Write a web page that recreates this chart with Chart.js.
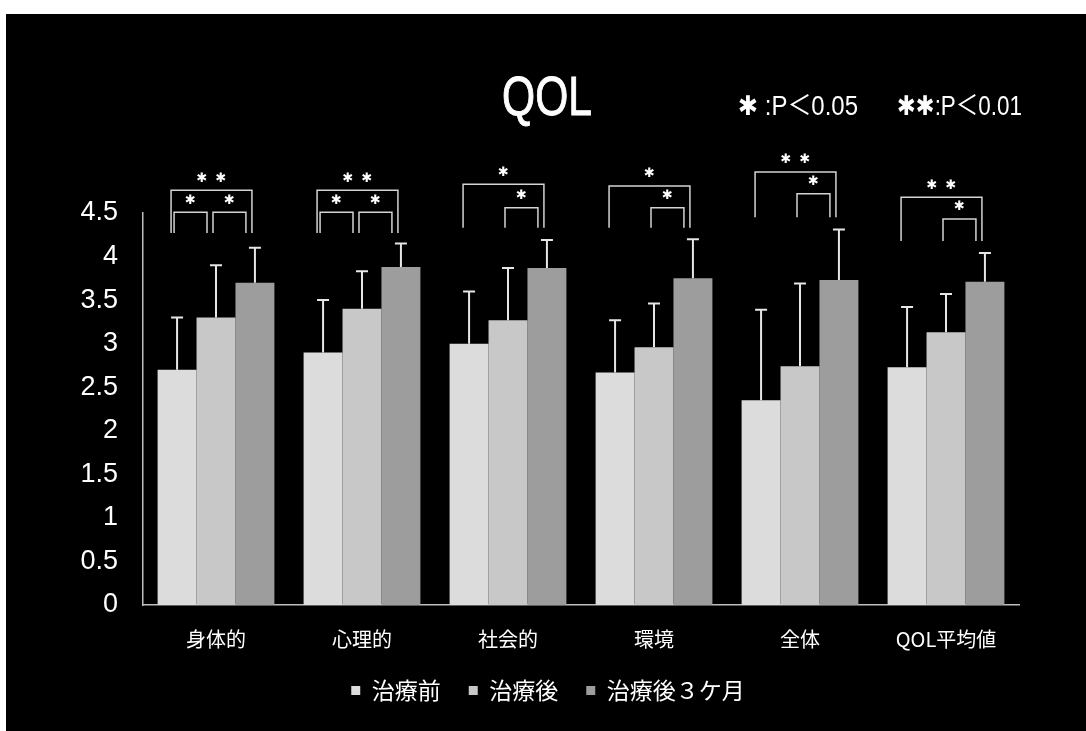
<!DOCTYPE html>
<html lang="ja">
<head>
<meta charset="utf-8">
<title>QOL</title>
<script src="https://cdn.jsdelivr.net/npm/chart.js@4.4.1/dist/chart.umd.min.js"></script>
<style>
  html, body { margin: 0; padding: 0; background: #ffffff; }
  #wrap { position: relative; width: 1086px; height: 731px; }
</style>
</head>
<body>
<div id="wrap"><canvas id="qol" width="1086" height="731"></canvas></div>
<script>
// Domains of the QOL questionnaire
const categories = ['身体的', '心理的', '社会的', '環境', '全体', 'QOL平均値'];
const seriesNames = ['治療前', '治療後', '治療後３ケ月'];

// Mean scores per domain
const beforeTreatment = [2.70, 2.90, 3.00, 2.67, 2.35, 2.73];
const afterTreatment  = [3.30, 3.40, 3.27, 2.96, 2.74, 3.13];
const after3Months    = [3.70, 3.88, 3.87, 3.75, 3.73, 3.71];

// Standard deviations (upper error bars)
const beforeSD  = [0.60, 0.60, 0.60, 0.60, 1.04, 0.69];
const afterSD   = [0.60, 0.43, 0.60, 0.50, 0.95, 0.44];
const after3SD  = [0.40, 0.27, 0.32, 0.45, 0.58, 0.33];

const yTickLabels = ['0', '0.5', '1', '1.5', '2', '2.5', '3', '3.5', '4', '4.5'];

// Significance brackets: domain, compared series, mark, bracket height and foot height (score units)
const bracketGroup = [0, 0, 0, 1, 1, 1, 2, 2, 3, 3, 4, 4, 5, 5];
const bracketFrom  = [0, 0, 1, 0, 0, 1, 0, 1, 0, 1, 0, 1, 0, 1];
const bracketTo    = [2, 1, 2, 2, 1, 2, 2, 2, 2, 2, 2, 2, 2, 2];
const bracketMark  = ['**', '*', '*', '**', '*', '*', '*', '*', '*', '*', '**', '*', '**', '*'];
const bracketTop   = [4.76, 4.51, 4.51, 4.76, 4.51, 4.51, 4.83, 4.56, 4.81, 4.56, 4.97, 4.72, 4.68, 4.43];
const bracketFoot  = [4.27, 4.27, 4.27, 4.27, 4.27, 4.27, 4.33, 4.33, 4.33, 4.33, 4.45, 4.45, 4.18, 4.18];

const titleText = 'QOL';
const noteTexts = ['✱ :P＜0.05', '✱✱:P＜0.01'];

const barColors = ['#dcdcdc', '#c8c8c8', '#9d9d9d'];
const sdSets = [beforeSD, afterSD, after3SD];

const cjk = '"Noto Sans CJK JP", "Noto Sans", sans-serif';
const latin = '"Liberation Sans", Arial, "DejaVu Sans", ' + cjk;

// White page margin with the black slide behind the chart
const backdrop = {
  id: 'backdrop',
  beforeDraw(chart) {
    const ctx = chart.ctx;
    ctx.save();
    ctx.fillStyle = '#ffffff';
    ctx.fillRect(0, 0, chart.width, chart.height);
    ctx.fillStyle = '#000000';
    ctx.fillRect(6, 14, chart.width - 6, chart.height - 14);
    ctx.restore();
  }
};

// Upper standard-deviation whiskers
const errorBars = {
  id: 'errorBars',
  afterDatasetsDraw(chart) {
    const ctx = chart.ctx, y = chart.scales.y;
    ctx.save();
    ctx.strokeStyle = '#e6e6e6';
    ctx.lineWidth = 2;
    chart.data.datasets.forEach((ds, i) => {
      const meta = chart.getDatasetMeta(i);
      meta.data.forEach((bar, j) => {
        const top = y.getPixelForValue(ds.data[j] + sdSets[i][j]);
        ctx.beginPath();
        ctx.moveTo(bar.x, bar.y);
        ctx.lineTo(bar.x, top);
        ctx.moveTo(bar.x - 6, top);
        ctx.lineTo(bar.x + 6, top);
        ctx.stroke();
      });
    });
    ctx.restore();
  }
};

// Significance brackets with asterisks
const significance = {
  id: 'significance',
  afterDatasetsDraw(chart) {
    const ctx = chart.ctx, y = chart.scales.y;
    ctx.save();
    bracketGroup.forEach((g, k) => {
      const a = chart.getDatasetMeta(bracketFrom[k]).data[g].x;
      const b = chart.getDatasetMeta(bracketTo[k]).data[g].x;
      const wide = bracketTo[k] - bracketFrom[k] > 1;
      const x1 = a + (wide ? -6 : -3);
      const x2 = b + (wide ? -3 : -9);
      const yt = y.getPixelForValue(bracketTop[k]);
      const yf = y.getPixelForValue(bracketFoot[k]);
      ctx.strokeStyle = '#d4d4d4';
      ctx.lineWidth = 1.5;
      ctx.beginPath();
      ctx.moveTo(x1, yf);
      ctx.lineTo(x1, yt);
      ctx.lineTo(x2, yt);
      ctx.lineTo(x2, yf);
      ctx.stroke();
      const n = bracketMark[k].length;
      const mid = (x1 + x2) / 2;
      ctx.fillStyle = '#ffffff';
      ctx.font = '13px "DejaVu Sans", ' + cjk;
      ctx.textAlign = 'center';
      ctx.textBaseline = 'middle';
      for (let s = 0; s < n; s++) {
        ctx.fillText('✱', mid + (s - (n - 1) / 2) * 19, yt - 12);
      }
    });
    ctx.restore();
  }
};

// Title and significance key
const headings = {
  id: 'headings',
  afterDraw(chart) {
    const ctx = chart.ctx;
    ctx.save();
    ctx.fillStyle = '#ffffff';
    ctx.strokeStyle = '#ffffff';
    ctx.lineWidth = 1;
    ctx.textBaseline = 'alphabetic';
    ctx.font = '56px ' + latin;
    ctx.textAlign = 'center';
    ctx.translate(547, 115);
    ctx.scale(0.76, 1);
    ctx.fillText(titleText, 0, 0);
    ctx.strokeText(titleText, 0, 0);
    ctx.restore();

    const starts = [738, 897], widths = [120, 125];
    noteTexts.forEach((t, i) => {
      ctx.save();
      ctx.fillStyle = '#ffffff';
      ctx.font = '27px ' + latin;
      ctx.textAlign = 'left';
      ctx.textBaseline = 'alphabetic';
      const w = ctx.measureText(t).width;
      ctx.translate(starts[i], 115);
      ctx.scale(widths[i] / w, 1);
      ctx.fillText(t, 0, 0);
      ctx.restore();
    });
  }
};

new Chart(document.getElementById('qol'), {
  type: 'bar',
  data: {
    labels: categories,
    datasets: [
      { label: seriesNames[0], data: beforeTreatment, backgroundColor: barColors[0], borderWidth: 0 },
      { label: seriesNames[1], data: afterTreatment, backgroundColor: barColors[1], borderWidth: 0 },
      { label: seriesNames[2], data: after3Months, backgroundColor: barColors[2], borderWidth: 0 }
    ]
  },
  options: {
    responsive: false,
    animation: false,
    events: [],
    datasets: { bar: { categoryPercentage: 0.8, barPercentage: 1.0 } },
    layout: { padding: { top: 213, right: 0, bottom: 19, left: 10 } },
    scales: {
      x: {
        grid: { display: false, drawTicks: false },
        border: { display: true, color: '#bdbdbd', width: 1.5 },
        ticks: { color: '#ffffff', font: { family: cjk, size: 20 }, padding: 22, maxRotation: 0 },
        afterFit(scale) { scale.height = 46; }
      },
      y: {
        min: 0,
        max: 4.5,
        grid: { display: false, drawTicks: false },
        border: { display: true, color: '#bdbdbd', width: 1.5 },
        ticks: {
          stepSize: 0.5,
          color: '#ffffff',
          font: { family: latin, size: 27 },
          padding: 25,
          callback: (v, i) => yTickLabels[i]
        },
        afterFit(scale) { scale.width = 133; }
      },
      // empty right-hand margin beside the plot
      margin: {
        position: 'right',
        min: 0,
        max: 1,
        grid: { display: false, drawTicks: false },
        border: { display: false },
        ticks: { display: false },
        afterFit(scale) { scale.width = 67; }
      }
    },
    plugins: {
      title: { display: false },
      tooltip: { enabled: false },
      legend: {
        position: 'bottom',
        labels: {
          color: '#ffffff',
          font: { family: cjk, size: 23 },
          boxWidth: 9,
          boxHeight: 9,
          padding: 28
        }
      }
    }
  },
  plugins: [backdrop, errorBars, significance, headings]
});
</script>
</body>
</html>
